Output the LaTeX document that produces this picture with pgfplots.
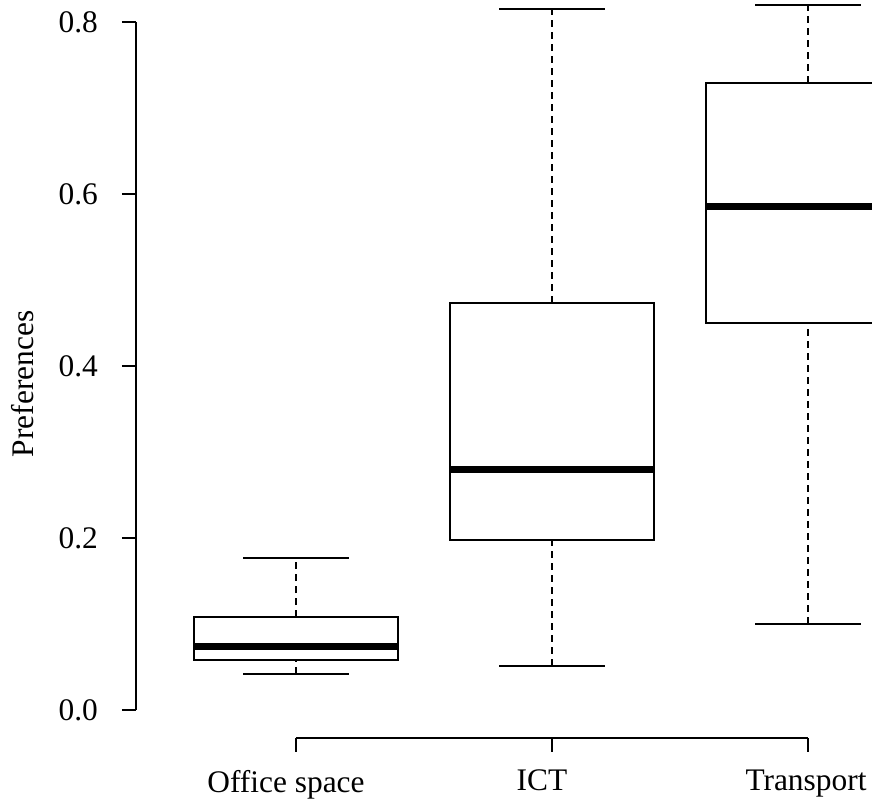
\documentclass[border=0pt]{standalone}
\usepackage{fontspec}
\setmainfont{Liberation Serif}
\usepackage{pgfplots}
\pgfplotsset{compat=1.18}
\begin{document}
\begin{tikzpicture}
\begin{axis}[
  scale only axis,
  width=368pt, height=369pt,
  xmin=0.375, xmax=3.25,
  ymin=-0.03256, ymax=0.8256,
  clip=false,
  axis x line*=bottom, axis y line*=left,
  separate axis lines,
  x axis line style={-, line width=1pt, shorten <=80pt, shorten >=32pt},
  y axis line style={-, line width=1pt, shorten <=14pt, shorten >=11pt},
  xtick={1,2,3},
  xticklabels={Office space,ICT,\hspace*{8pt}Transport},
  ytick={0,0.2,0.4,0.6,0.8},
  tick align=outside,
  major tick length=7pt,
  tick style={black, line width=1pt},
  /pgf/number format/assume math mode=true,
  yticklabel style={xshift=-8.5pt, /pgf/number format/fixed, /pgf/number format/fixed zerofill, /pgf/number format/precision=1},
  xticklabel style={yshift=-5.5pt, xshift=-5pt},
  every tick label/.append style={font=\fontsize{15.7}{18}\selectfont},
  ylabel={Preferences},
  ylabel style={at={(rel axis cs:-0.1535,0.4797)}, anchor=center, rotate=0, font=\fontsize{15.7}{18}\selectfont},
  wh/.style={black, line width=1pt, dash pattern=on 3.5pt off 2.5pt, no marks},
  cap/.style={black, line width=1pt, no marks},
  bx/.style={black, line width=1pt, fill=white, no marks},
  md/.style={black, line width=3.5pt, no marks},
]
% Office space: lw 0.0419, q1 0.0581, med 0.0744, q3 0.1081, uw 0.1767
\addplot[wh] coordinates {(1,0.0419) (1,0.0581)};
\addplot[wh] coordinates {(1,0.1081) (1,0.1767)};
\addplot[cap] coordinates {(0.793,0.0419) (1.207,0.0419)};
\addplot[cap] coordinates {(0.793,0.1767) (1.207,0.1767)};
\addplot[bx] coordinates {(0.6,0.0581) (1.4,0.0581) (1.4,0.1081) (0.6,0.1081)} --cycle;
\addplot[md] coordinates {(0.6,0.0744) (1.4,0.0744)};
% ICT: lw 0.0512, q1 0.1977, med 0.2802, q3 0.4733, uw 0.8151
\addplot[wh] coordinates {(2,0.0512) (2,0.1977)};
\addplot[wh] coordinates {(2,0.4733) (2,0.8151)};
\addplot[cap] coordinates {(1.793,0.0512) (2.207,0.0512)};
\addplot[cap] coordinates {(1.793,0.8151) (2.207,0.8151)};
\addplot[bx] coordinates {(1.6,0.1977) (2.4,0.1977) (2.4,0.4733) (1.6,0.4733)} --cycle;
\addplot[md] coordinates {(1.6,0.2802) (2.4,0.2802)};
% Transport: lw 0.100, q1 0.450, med 0.5849, q3 0.7291, uw 0.8198
\addplot[wh] coordinates {(3,0.1000) (3,0.4500)};
\addplot[wh] coordinates {(3,0.7291) (3,0.8198)};
\addplot[cap] coordinates {(2.793,0.1000) (3.207,0.1000)};
\addplot[cap] coordinates {(2.793,0.8198) (3.207,0.8198)};
\addplot[bx] coordinates {(2.6,0.4500) (3.4,0.4500) (3.4,0.7291) (2.6,0.7291)} --cycle;
\addplot[md] coordinates {(2.6,0.5849) (3.4,0.5849)};
\coordinate (BL) at (axis cs:-0.15625,-0.11395);
\coordinate (TR) at (axis cs:3.25,0.8256);
\end{axis}
\pgfresetboundingbox
\useasboundingbox (BL) rectangle (TR);
\end{tikzpicture}
\end{document}
